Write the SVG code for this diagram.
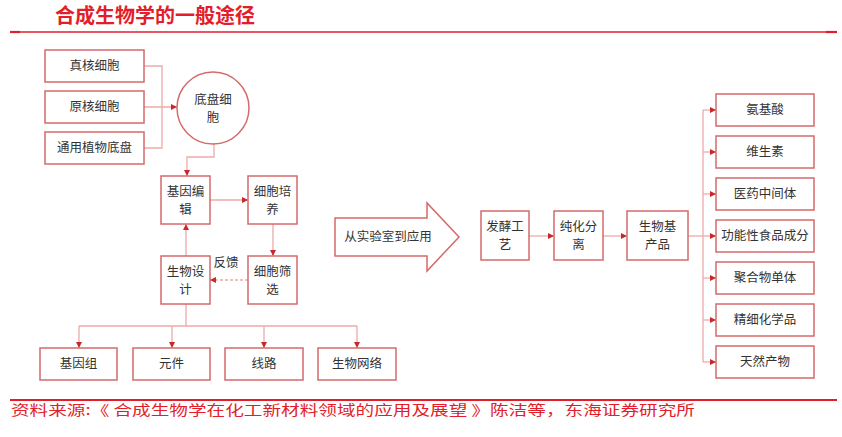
<svg xmlns="http://www.w3.org/2000/svg" width="842" height="437" viewBox="0 0 842 437">
<defs>
<style>
.box{fill:#fff;stroke:#d46a6a;stroke-width:1.5}
.t{font-family:"Liberation Sans","Noto Sans CJK SC",sans-serif;font-size:12.5px;fill:#333;text-anchor:middle;dominant-baseline:central}
.c{fill:none;stroke:#eeaaaa;stroke-width:1.3}
.a{marker-end:url(#ah)}
.red{fill:#e31e2a}
</style>
<marker id="ah" viewBox="0 0 10 10" refX="10" refY="5" markerWidth="6" markerHeight="6" markerUnits="userSpaceOnUse" orient="auto">
<path d="M0,0 L10,5 L0,10 z" fill="#c8282c"/>
</marker>
</defs>
<rect width="842" height="437" fill="#fff"/>
<g id="header">
<text x="55" y="23" font-family="'Noto Sans CJK SC',sans-serif" font-size="20" font-weight="bold" class="red">合成生物学的一般途径</text>
<line x1="10" y1="32" x2="837" y2="32" stroke="#e31e2a" stroke-width="1.3"/>
<line x1="10" y1="32" x2="20" y2="32" stroke="#e31e2a" stroke-width="2.2"/>
<line x1="826" y1="32" x2="837" y2="32" stroke="#e31e2a" stroke-width="2.2"/>
</g>
<g id="connectors">
<polyline class="c" points="144,66 162,66 162,148 144,148"/>
<line class="c a" x1="144" y1="107" x2="177" y2="107"/>
<polyline class="c a" points="214,144 214,157 187,157 187,176"/>
<line class="c a" x1="210" y1="200" x2="248" y2="200"/>
<line class="c a" x1="273" y1="224" x2="273" y2="256"/>
<line class="c a" x1="248" y1="280" x2="210" y2="280" stroke-dasharray="3,2"/>
<line class="c a" x1="186" y1="256" x2="186" y2="224"/>
<line class="c" x1="186" y1="304" x2="186" y2="326"/>
<line class="c" x1="79" y1="326" x2="357" y2="326"/>
<line class="c a" x1="79" y1="326" x2="79" y2="348"/>
<line class="c a" x1="172" y1="326" x2="172" y2="348"/>
<line class="c a" x1="264" y1="326" x2="264" y2="348"/>
<line class="c a" x1="357" y1="326" x2="357" y2="348"/>
<line class="c a" x1="529" y1="236" x2="554" y2="236"/>
<line class="c a" x1="603" y1="236" x2="627" y2="236"/>
<line class="c" x1="688" y1="236" x2="703" y2="236"/>
<line class="c" x1="703" y1="110" x2="703" y2="362"/>
<line class="c a" x1="703" y1="110" x2="716" y2="110"/>
<line class="c a" x1="703" y1="152" x2="716" y2="152"/>
<line class="c a" x1="703" y1="194" x2="716" y2="194"/>
<line class="c a" x1="703" y1="236" x2="716" y2="236"/>
<line class="c a" x1="703" y1="278" x2="716" y2="278"/>
<line class="c a" x1="703" y1="320" x2="716" y2="320"/>
<line class="c a" x1="703" y1="362" x2="716" y2="362"/>
<text class="t" x="226" y="263">反馈</text>
</g>
<g id="n1"><rect class="box" x="45" y="50" width="99" height="32"/><text class="t" x="94.5" y="66">真核细胞</text></g>
<g id="n2"><rect class="box" x="45" y="91" width="99" height="32"/><text class="t" x="94.5" y="107">原核细胞</text></g>
<g id="n3"><rect class="box" x="45" y="132" width="99" height="32"/><text class="t" x="94.5" y="148">通用植物底盘</text></g>
<g id="n4"><circle class="box" cx="213" cy="108" r="36"/><text class="t" x="213" y="100">底盘细</text><text class="t" x="213" y="118">胞</text></g>
<g id="n5"><rect class="box" x="161" y="176" width="49" height="48"/><text class="t" x="185.5" y="192">基因编</text><text class="t" x="185.5" y="210">辑</text></g>
<g id="n6"><rect class="box" x="248" y="176" width="49" height="48"/><text class="t" x="272.5" y="192">细胞培</text><text class="t" x="272.5" y="210">养</text></g>
<g id="n7"><rect class="box" x="248" y="256" width="49" height="48"/><text class="t" x="272.5" y="272">细胞筛</text><text class="t" x="272.5" y="290">选</text></g>
<g id="n8"><rect class="box" x="161" y="256" width="49" height="48"/><text class="t" x="185.5" y="272">生物设</text><text class="t" x="185.5" y="290">计</text></g>
<g id="n9"><rect class="box" x="40" y="348" width="77" height="32"/><text class="t" x="78.5" y="364">基因组</text></g>
<g id="n10"><rect class="box" x="133" y="348" width="77" height="32"/><text class="t" x="171.5" y="364">元件</text></g>
<g id="n11"><rect class="box" x="225" y="348" width="78" height="32"/><text class="t" x="264" y="364">线路</text></g>
<g id="n12"><rect class="box" x="318" y="348" width="78" height="32"/><text class="t" x="357" y="364">生物网络</text></g>
<g id="n13"><polygon class="box" points="335,218 427,218 427,203 459,237 427,271 427,256 335,256"/><text class="t" x="388" y="237">从实验室到应用</text></g>
<g id="n14"><rect class="box" x="481" y="211" width="48" height="49"/><text class="t" x="505" y="227">发酵工</text><text class="t" x="505" y="245">艺</text></g>
<g id="n15"><rect class="box" x="554" y="211" width="49" height="49"/><text class="t" x="578.5" y="227">纯化分</text><text class="t" x="578.5" y="245">离</text></g>
<g id="n16"><rect class="box" x="627" y="211" width="61" height="49"/><text class="t" x="657.5" y="227">生物基</text><text class="t" x="657.5" y="245">产品</text></g>
<g id="n17"><rect class="box" x="716" y="94" width="98" height="32"/><text class="t" x="765" y="110">氨基酸</text></g>
<g id="n18"><rect class="box" x="716" y="136" width="98" height="32"/><text class="t" x="765" y="152">维生素</text></g>
<g id="n19"><rect class="box" x="716" y="178" width="98" height="32"/><text class="t" x="765" y="194">医药中间体</text></g>
<g id="n20"><rect class="box" x="716" y="220" width="98" height="32"/><text class="t" x="765" y="236">功能性食品成分</text></g>
<g id="n21"><rect class="box" x="716" y="262" width="98" height="32"/><text class="t" x="765" y="278">聚合物单体</text></g>
<g id="n22"><rect class="box" x="716" y="304" width="98" height="32"/><text class="t" x="765" y="320">精细化学品</text></g>
<g id="n23"><rect class="box" x="716" y="346" width="98" height="32"/><text class="t" x="765" y="362">天然产物</text></g>
<g id="footer">
<line x1="10" y1="400" x2="837" y2="400" stroke="#e31e2a" stroke-width="1.8"/>
<text x="11" y="415" font-family="'Noto Sans CJK SC',sans-serif" font-size="14" class="red" textLength="684" lengthAdjust="spacingAndGlyphs">资料来源:《 合成生物学在化工新材料领域的应用及展望 》陈洁等，东海证券研究所</text>
</g>
</svg>
